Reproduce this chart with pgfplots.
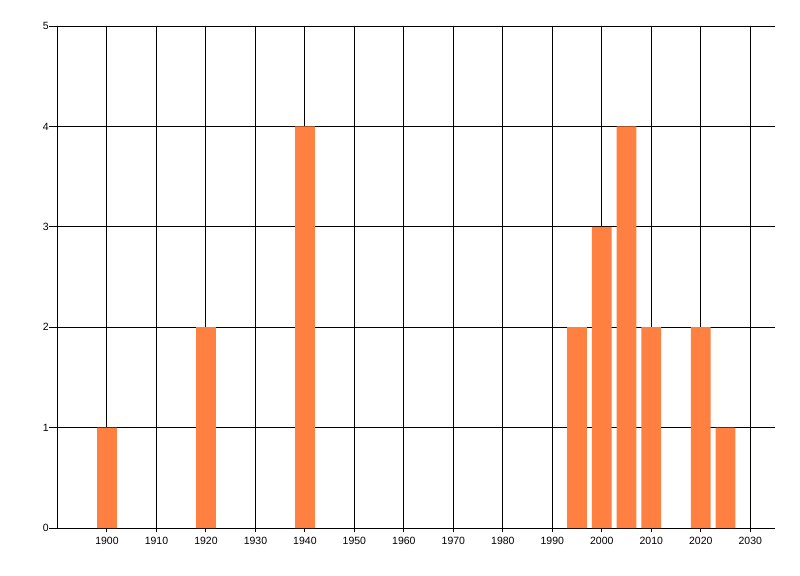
\documentclass[border=0pt]{standalone}
\usepackage{fontspec}
\setmainfont{Liberation Sans}
\usepackage{pgfplots}
\pgfplotsset{compat=1.18}
\definecolor{barorange}{RGB}{255,128,64}
\begin{document}
\begin{tikzpicture}
\begin{axis}[
  scale only axis,
  width=717.5bp, height=502bp,
  xmin=1890, xmax=2035, ymin=0, ymax=5,
  axis lines=left,
  axis line style={-, black, line width=1bp},
  xtick={1900,1910,...,2030},
  ytick={0,1,2,3,4,5},
  grid=major,
  major grid style={black, line width=1bp},
  tick style={black, line width=1bp},
  xtick style={/pgfplots/major tick length=4bp},
  ytick style={/pgfplots/major tick length=8bp},
  tick align=outside,
  /pgf/number format/1000 sep={},
  /pgf/number format/assume math mode=true,
  ticklabel style={font=\fontsize{10.5bp}{12bp}\selectfont, black},
  xticklabel style={yshift=-1bp},
  yticklabel style={xshift=-1bp},
  clip=false,
]
\addplot[ybar, bar width=4, bar shift=0pt, fill=barorange, draw=none] coordinates {
  (1900,1) (1920,2) (1940,4) (1995,2) (2000,3) (2005,4) (2010,2) (2020,2) (2025,1)
};
\end{axis}
\path[use as bounding box] (-57.5bp,-48bp) rectangle (742.5bp,528bp);
\end{tikzpicture}
\end{document}
